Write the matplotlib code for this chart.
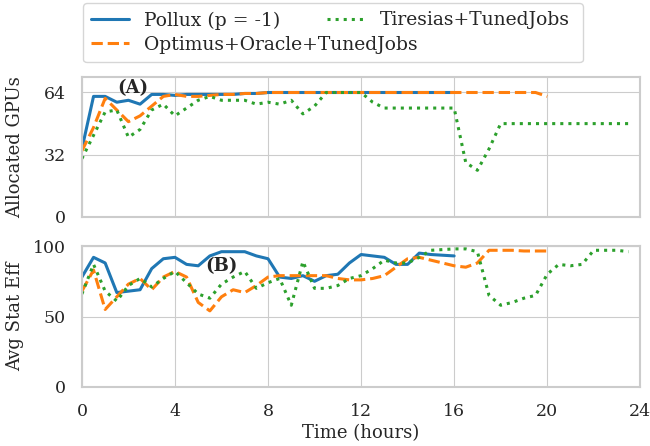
import numpy as np
import matplotlib
matplotlib.use("Agg")
import matplotlib.pyplot as plt
import seaborn as sns

sns.set_style("whitegrid")
plt.rcParams['font.family'] = ['DejaVu Serif']

# time axis (hours), half-hour samples
t_pollux = np.arange(0, 16.01, 0.5)
t_optimus = np.arange(0, 20.01, 0.5)
t_tiresias = np.arange(0, 23.51, 0.5)

# allocated GPUs
gpu_pollux = [35, 62, 62, 59, 60, 58, 63, 63, 62.5, 63, 63, 63, 63, 63, 63.5, 63.5,
              64, 64, 64, 64, 64, 64, 64, 64, 64, 64, 64, 64, 64, 64, 64, 64, 64]
gpu_optimus = [34, 46, 61, 55, 49, 52, 57, 62, 63, 62, 62, 62.5, 63, 63, 63.5, 63.5,
               64, 64, 64, 64, 64, 64, 64, 64, 64, 64, 64, 64, 64, 64, 64, 64, 64,
               64, 64, 64, 64, 64, 64, 64, 62]
gpu_tiresias = [30, 42, 54, 55, 41, 45, 55, 58, 52, 56, 60, 62, 60, 60, 60, 58,
                59, 58, 60, 53, 57, 64, 64, 64, 64, 59, 56, 56, 56, 56, 56, 56,
                56, 28, 24, 35, 48, 48, 48, 48, 48, 48, 48, 48, 48, 48, 48, 48]

# average statistical efficiency
eff_pollux = [78, 92, 88, 67, 68, 69, 84, 91, 92, 87, 86, 93, 96, 96, 96, 93,
              91, 78, 77, 79, 75, 79, 80, 88, 94, 93, 92, 87, 87, 95, 94, 93.5, 93]
eff_optimus = [68, 83, 55, 64, 73, 77, 69, 78, 82, 78, 60, 54, 64, 69, 67, 72,
               78, 79, 79, 79, 79, 79, 77, 76, 76, 77, 79, 85, 91, 92, 90, 88,
               86, 85, 88, 97, 97, 97, 96.5, 96.5, 96.5]
eff_tiresias = [66, 87, 68, 61, 72, 77, 71, 77, 82, 74, 66, 63, 73, 78, 82, 70,
                74, 77, 58, 89, 70, 70, 72, 77, 79, 84, 90, 88, 88, 92, 97, 97.5,
                98, 98, 96, 65, 58, 60, 63, 65, 80, 87, 86, 87, 97, 97, 97, 96]

labels = ["Pollux (p = -1)", "Optimus+Oracle+TunedJobs", "Tiresias+TunedJobs"]
colors = ["#1f77b4", "#ff7f0e", "#2ca02c"]
styles = ["-", "--", ":"]

fig = plt.figure(figsize=(6.5, 4.46), dpi=100)
ax1 = fig.add_axes([0.126, 0.5135, 0.859, 0.314])
ax2 = fig.add_axes([0.126, 0.1323, 0.859, 0.316])

series_gpu = [(t_pollux, gpu_pollux), (t_optimus, gpu_optimus), (t_tiresias, gpu_tiresias)]
series_eff = [(t_pollux, eff_pollux), (t_optimus, eff_optimus), (t_tiresias, eff_tiresias)]

lines = []
for (t, y), lab, c, ls in zip(series_gpu, labels, colors, styles):
    l, = ax1.plot(t, y, color=c, ls=ls, lw=2.2, label=lab)
    lines.append(l)
for (t, y), c, ls in zip(series_eff, colors, styles):
    ax2.plot(t, y, color=c, ls=ls, lw=2.2)

for ax in (ax1, ax2):
    ax.set_xlim(0, 24)
    ax.set_xticks(range(0, 25, 4))
    ax.tick_params(labelsize=12.5, pad=8)
    for s in ax.spines.values():
        s.set_color("#cccccc")
        s.set_linewidth(1.5)

ax1.set_ylim(0, 72)
ax1.set_yticks([0, 32, 64])
ax1.set_xticklabels([])
ax1.set_ylabel("Allocated GPUs", fontsize=13)

ax2.set_ylim(0, 100)
ax2.set_yticks([0, 50, 100])
ax2.set_ylabel("Avg Stat Eff", fontsize=13)
ax2.set_xlabel("Time (hours)", fontsize=13, labelpad=3)

for ax in (ax1, ax2):
    ax.yaxis.set_label_coords(-0.104, 0.5)

ax1.text(2.2, 66.5, "(A)", fontsize=13, fontweight="bold", ha="center", va="center")
ax2.text(6.0, 85.5, "(B)", fontsize=13, fontweight="bold", ha="center", va="center")

# framed legend box with Pollux / Optimus stacked on the left
fig.legend(lines[:2], labels[:2], loc="upper left",
           bbox_to_anchor=(83 / 650, 0, 500 / 650, 1 - 3 / 446),
           mode="expand", ncol=1, fontsize=13.5, frameon=True,
           borderaxespad=0, borderpad=0.45, labelspacing=0.33)
# Tiresias sits in the first row, right half
fig.legend(lines[2:], labels[2:], loc="upper left",
           bbox_to_anchor=(327 / 650, 1 - 11.4 / 446),
           fontsize=13.5, frameon=False, borderaxespad=0, borderpad=0)

fig.savefig("out.png", dpi=100)
